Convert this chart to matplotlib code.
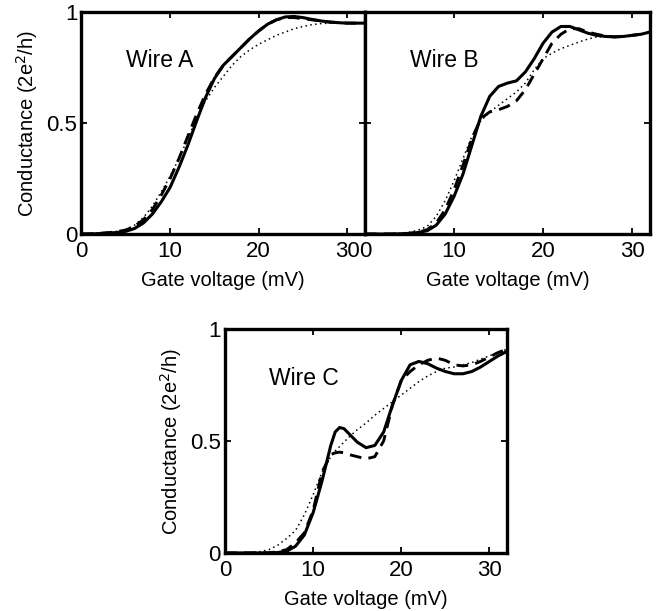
import matplotlib
matplotlib.use('Agg')
import matplotlib.pyplot as plt

plt.rcParams['font.family'] = ['Liberation Sans', 'DejaVu Sans']

# gate voltage grid (mV)
vg = [0, 1, 2, 3, 4, 5, 6, 7, 8, 9, 10, 11, 12, 13, 14, 15, 16,
      17, 18, 19, 20, 21, 22, 23, 24, 25, 26, 27, 28, 29, 30, 31, 32]
vg_c = [0, 1, 2, 3, 4, 5, 6, 7, 8, 9, 10, 11, 12, 12.5, 13, 13.5, 14, 15, 16,
        17, 18, 19, 20, 21, 22, 23, 24, 25, 26, 27, 28, 29, 30, 31, 32]

# wire A
a_solid = [0, 0, 0.002, 0.004, 0.007, 0.012, 0.025, 0.05, 0.09, 0.145, 0.21, 0.30, 0.40,
           0.51, 0.615, 0.70, 0.76, 0.80, 0.84, 0.88, 0.915, 0.945, 0.965, 0.978, 0.98,
           0.975, 0.967, 0.96, 0.955, 0.952, 0.95, 0.95, 0.95]
a_dash = [0, 0.001, 0.003, 0.006, 0.01, 0.018, 0.035, 0.065, 0.11, 0.175, 0.25, 0.34, 0.44,
          0.54, 0.63, 0.705, 0.76, 0.80, 0.84, 0.88, 0.915, 0.945, 0.965, 0.975, 0.975,
          0.97, 0.965, 0.96, 0.955, 0.952, 0.95, 0.95, 0.95]
a_dot = [0, 0.002, 0.004, 0.008, 0.012, 0.02, 0.04, 0.075, 0.125, 0.19, 0.26, 0.34, 0.43,
         0.52, 0.60, 0.66, 0.71, 0.76, 0.80, 0.83, 0.855, 0.875, 0.895, 0.91, 0.925,
         0.935, 0.943, 0.948, 0.95, 0.95, 0.95, 0.95, 0.95]

# wire B
b_solid = [0, 0, 0, 0, 0.001, 0.003, 0.007, 0.015, 0.04, 0.09, 0.17, 0.27, 0.40, 0.53,
           0.62, 0.665, 0.68, 0.69, 0.73, 0.79, 0.86, 0.91, 0.935, 0.935, 0.92, 0.905,
           0.895, 0.89, 0.888, 0.89, 0.895, 0.90, 0.91]
b_dash = [0, 0, 0, 0, 0.001, 0.003, 0.008, 0.02, 0.05, 0.11, 0.20, 0.31, 0.43, 0.52,
          0.55, 0.56, 0.575, 0.60, 0.65, 0.72, 0.79, 0.86, 0.90, 0.925, 0.925, 0.91,
          0.90, 0.892, 0.888, 0.89, 0.895, 0.90, 0.91]
b_dot = [0, 0, 0.001, 0.002, 0.004, 0.008, 0.018, 0.035, 0.08, 0.15, 0.24, 0.34, 0.44,
         0.51, 0.55, 0.58, 0.61, 0.64, 0.68, 0.74, 0.79, 0.815, 0.835, 0.85, 0.865,
         0.878, 0.888, 0.89, 0.89, 0.89, 0.895, 0.90, 0.91]

# wire C
c_solid = [0, 0, 0, 0, 0, 0, 0.002, 0.008, 0.03, 0.08, 0.18, 0.32, 0.48, 0.54, 0.56,
           0.555, 0.535, 0.495, 0.47, 0.48, 0.54, 0.66, 0.77, 0.84, 0.855, 0.845, 0.825,
           0.81, 0.80, 0.80, 0.81, 0.83, 0.855, 0.88, 0.90]
c_dash = [0, 0, 0, 0, 0, 0.001, 0.005, 0.015, 0.045, 0.09, 0.19, 0.36, 0.44, 0.447, 0.45,
          0.447, 0.44, 0.43, 0.42, 0.43, 0.50, 0.66, 0.77, 0.81, 0.84, 0.86, 0.87, 0.86,
          0.84, 0.835, 0.84, 0.855, 0.875, 0.895, 0.91]
c_dot = [0, 0, 0.001, 0.002, 0.006, 0.015, 0.035, 0.065, 0.10, 0.17, 0.26, 0.36, 0.43,
         0.455, 0.475, 0.495, 0.515, 0.55, 0.58, 0.615, 0.645, 0.675, 0.705, 0.735, 0.765,
         0.79, 0.81, 0.825, 0.83, 0.84, 0.85, 0.865, 0.88, 0.895, 0.91]

wires = ['Wire A', 'Wire B', 'Wire C']
ylab = 'Conductance (2e$^2$/h)'
xlab = 'Gate voltage (mV)'

fig = plt.figure(figsize=(6.62, 6.11), dpi=100)
axA = fig.add_axes([0.1231, 0.617, 0.4283, 0.3633])
axB = fig.add_axes([0.5514, 0.617, 0.4305, 0.3633])
axC = fig.add_axes([0.3399, 0.095, 0.426, 0.3666])

data = [(axA, vg, a_solid, a_dash, a_dot),
        (axB, vg, b_solid, b_dash, b_dot),
        (axC, vg_c, c_solid, c_dash, c_dot)]

for i, (ax, x, s, d, o) in enumerate(data):
    ax.plot(x, o, color='black', lw=1.1, linestyle=(0, (1, 2.2)))
    ax.plot(x, d, color='black', lw=2.1, linestyle=(0, (4, 2.5)))
    ax.plot(x, s, color='black', lw=2.2)
    ax.set_xlim(0, 32)
    ax.set_ylim(0, 1)
    ax.set_xticks([0, 10, 20, 30])
    ax.set_yticks([0, 0.5, 1])
    ax.set_yticklabels(['0', '0.5', '1'])
    ax.tick_params(direction='in', top=True, right=True, length=4, width=1.3,
                   labelsize=16)
    ax.tick_params(axis='x', pad=5)
    ax.tick_params(axis='y', pad=3)
    for sp in ax.spines.values():
        sp.set_linewidth(2.4)
    ax.text(5, 0.78, wires[i], fontsize=16.5, va='center', ha='left')
    ax.set_xlabel(xlab, fontsize=14.5)
    ax.xaxis.set_label_coords(0.5, -0.165)
    if i == 1:
        ax.tick_params(labelleft=False)
    else:
        ax.set_ylabel(ylab, fontsize=14.5)
        ax.yaxis.set_label_coords(-0.145, 0.5)

fig.savefig('out.png', dpi=100)
